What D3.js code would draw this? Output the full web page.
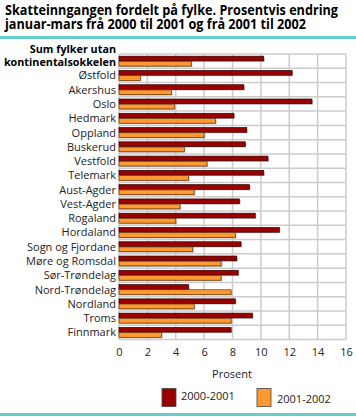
<!DOCTYPE html>
<html><head><meta charset="utf-8">
<script src="https://cdn.jsdelivr.net/npm/d3@7"></script>
<style>body{margin:0;background:#fff}svg{display:block}</style>
</head><body>
<script>
const categories = ["Sum fylker utan kontinentalsokkelen","Østfold","Akershus","Oslo","Hedmark","Oppland","Buskerud","Vestfold","Telemark","Aust-Agder","Vest-Agder","Rogaland","Hordaland","Sogn og Fjordane","Møre og Romsdal","Sør-Trøndelag","Nord-Trøndelag","Nordland","Troms","Finnmark"];
const series = ["2000-2001","2001-2002"];
const values2000_2001 = [10.2,12.2,8.8,13.6,8.1,9.0,8.9,10.5,10.2,9.2,8.5,9.6,11.3,8.6,8.3,8.4,4.9,8.2,9.4,7.9];
const values2001_2002 = [5.1,1.5,3.7,3.9,6.8,6.0,4.6,6.2,4.9,5.3,4.3,4.0,8.2,5.2,7.2,7.2,7.9,5.3,7.9,3.0];
const xTicks = [0,2,4,6,8,10,12,14,16];
const titleLines = ["Skatteinngangen fordelt på fylke. Prosentvis endring","januar-mars frå 2000 til 2001 og frå 2001 til 2002"];
const xTitle = "Prosent";
const colors = ["#990000","#ff9933"];

const W=356,H=417;
const svg=d3.select("body").append("svg").attr("width",W).attr("height",H);
const font="'Open Sans', sans-serif";

// title
const tt=svg.append("g");
titleLines.forEach((t,i)=>{
  tt.append("text").attr("x",5).attr("y",14.8+i*13.7).text(t)
   .attr("font-family",font).attr("font-weight","bold").attr("font-size",13.5).attr("fill","#000")
   .attr("textLength",i===0?333:301).attr("lengthAdjust","spacingAndGlyphs");
});
svg.append("rect").attr("x",0).attr("y",36).attr("width",W).attr("height",3).attr("fill","#66cccc");
svg.append("rect").attr("x",0).attr("y",413).attr("width",W).attr("height",3).attr("fill","#66cccc");

const m={l:119,r:346,t:54,b:339.5};
const x=d3.scaleLinear().domain([0,16]).range([m.l,m.r]);
const y=d3.scaleBand().domain(categories).range([m.t,m.b]);
const ys=d3.scaleBand().domain(series).range([0,y.bandwidth()]).paddingInner(0.096).paddingOuter(0.42);

// grid
const grid=svg.append("g").attr("stroke","#cccccc").attr("stroke-width",1.5);
xTicks.forEach(t=>grid.append("line").attr("x1",x(t)).attr("x2",x(t)).attr("y1",m.t).attr("y2",m.b));
categories.forEach(c=>grid.append("line").attr("x1",m.l).attr("x2",m.r).attr("y1",y(c)).attr("y2",y(c)));
grid.append("line").attr("x1",m.l).attr("x2",m.r).attr("y1",m.b).attr("y2",m.b);

// bars
const data=categories.map((c,i)=>({c,v:[values2000_2001[i],values2001_2002[i]]}));
const gb=svg.append("g");
data.forEach(d=>{
  series.forEach((s,j)=>{
    const yy=y(d.c)+ys(s);
    gb.append("rect").attr("x",x(0)+1).attr("y",yy+1).attr("width",x(d.v[j])-x(0)).attr("height",ys.bandwidth())
      .attr("fill","#888").attr("opacity",0.6);
    gb.append("rect").attr("x",x(0)).attr("y",yy).attr("width",x(d.v[j])-x(0)).attr("height",ys.bandwidth())
      .attr("fill",colors[j]).attr("stroke",j===0?"#330000":"#663300").attr("stroke-width",0.7);
  });
});

// category labels
const lab=svg.append("g").attr("font-family",font).attr("font-size",11).attr("fill","#222").attr("text-anchor","end");
categories.forEach((c,i)=>{
  if(i===0){
    lab.append("text").attr("x",116).attr("y",52.5).attr("font-weight","bold").attr("font-size",10.8).attr("fill","#000").text("Sum fylker utan");
    lab.append("text").attr("x",116).attr("y",65.5).attr("font-weight","bold").attr("font-size",10.8).attr("fill","#000").text("kontinentalsokkelen");
  } else {
    lab.append("text").attr("x",116).attr("y",y(c)+y.bandwidth()/2+4).text(c);
  }
});

// x axis
const xa=svg.append("g").attr("transform",`translate(0,${m.b})`)
  .call(d3.axisBottom(x).tickValues(xTicks).tickSize(0).tickPadding(9).tickFormat(d3.format("d")));
xa.select(".domain").remove();
xa.selectAll("text").attr("font-family",font).attr("font-size",11).attr("fill","#222");
svg.append("text").attr("x",232).attr("y",378).attr("text-anchor","middle").attr("font-family",font).attr("font-size",11).attr("fill","#222").text(xTitle);

// legend
const lg=[{x:162,tx:181,ty:400},{x:257,tx:277,ty:403}];
series.forEach((s,j)=>{
  svg.append("rect").attr("x",lg[j].x).attr("y",388.5).attr("width",14).attr("height",18)
    .attr("fill",colors[j]).attr("stroke","#444").attr("stroke-width",0.8);
  svg.append("text").attr("x",lg[j].tx).attr("y",lg[j].ty).attr("font-family",font).attr("font-size",11).attr("fill","#222").text(s);
});
</script>
</body></html>
